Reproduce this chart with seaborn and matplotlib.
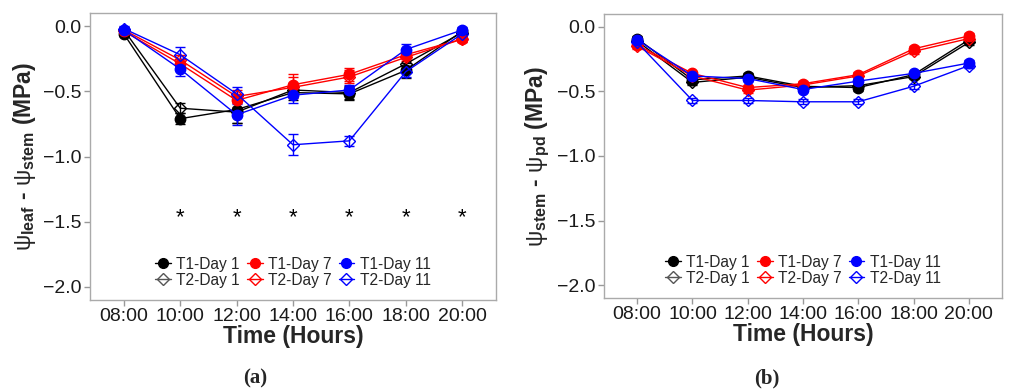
import numpy as np
import pandas as pd
import matplotlib
matplotlib.use("Agg")
import matplotlib.pyplot as plt
from matplotlib.lines import Line2D
import seaborn as sns

sns.set_theme(style="white")
plt.rcParams['font.family'] = ['Liberation Sans', 'DejaVu Sans']
plt.rcParams['mathtext.fontset'] = 'custom'
plt.rcParams['mathtext.rm'] = 'Liberation Sans'
plt.rcParams['mathtext.it'] = 'Liberation Sans:italic'
plt.rcParams['mathtext.bf'] = 'Liberation Sans:bold'

times = ['08:00', '10:00', '12:00', '14:00', '16:00', '18:00', '20:00']
series = ['T1-Day 1', 'T2-Day 1', 'T1-Day 7', 'T2-Day 7', 'T1-Day 11', 'T2-Day 11']

# Panel (a): psi_leaf - psi_stem
a_T1D1 = [-0.06, -0.71, -0.64, -0.51, -0.52, -0.34, -0.04]
a_T2D1 = [-0.03, -0.63, -0.66, -0.49, -0.51, -0.29, -0.05]
a_T1D7 = [-0.04, -0.29, -0.57, -0.45, -0.37, -0.22, -0.10]
a_T2D7 = [-0.03, -0.26, -0.54, -0.47, -0.39, -0.24, -0.10]
a_T1D11 = [-0.03, -0.33, -0.68, -0.53, -0.49, -0.18, -0.03]
a_T2D11 = [-0.02, -0.22, -0.52, -0.91, -0.88, -0.35, -0.06]
a_err_T1D1 = [0.02, 0.04, 0.10, 0.06, 0.05, 0.06, 0.02]
a_err_T2D1 = [0.02, 0.04, 0.08, 0.05, 0.05, 0.05, 0.02]
a_err_T1D7 = [0.02, 0.04, 0.05, 0.08, 0.05, 0.03, 0.02]
a_err_T2D7 = [0.02, 0.04, 0.05, 0.08, 0.05, 0.03, 0.02]
a_err_T1D11 = [0.02, 0.05, 0.08, 0.06, 0.04, 0.04, 0.02]
a_err_T2D11 = [0.02, 0.06, 0.05, 0.08, 0.04, 0.04, 0.02]
a_signif = ['', '*', '*', '*', '*', '*', '*']

# Panel (b): psi_stem - psi_pd
b_T1D1 = [-0.09, -0.41, -0.38, -0.46, -0.47, -0.37, -0.10]
b_T2D1 = [-0.11, -0.43, -0.39, -0.47, -0.455, -0.385, -0.12]
b_T1D7 = [-0.14, -0.36, -0.47, -0.44, -0.37, -0.17, -0.07]
b_T2D7 = [-0.15, -0.38, -0.49, -0.45, -0.38, -0.19, -0.09]
b_T1D11 = [-0.10, -0.38, -0.40, -0.485, -0.42, -0.36, -0.28]
b_T2D11 = [-0.12, -0.57, -0.57, -0.58, -0.58, -0.46, -0.30]
b_err_T1D1 = [0.02, 0.03, 0.02, 0.02, 0.03, 0.02, 0.02]
b_err_T2D1 = [0.02, 0.02, 0.02, 0.02, 0.02, 0.02, 0.02]
b_err_T1D7 = [0.02, 0.02, 0.02, 0.02, 0.02, 0.02, 0.02]
b_err_T2D7 = [0.02, 0.02, 0.02, 0.02, 0.02, 0.02, 0.02]
b_err_T1D11 = [0.02, 0.02, 0.02, 0.02, 0.02, 0.02, 0.02]
b_err_T2D11 = [0.02, 0.02, 0.02, 0.02, 0.02, 0.02, 0.02]

colors = {'T1-Day 1': 'black', 'T2-Day 1': 'black', 'T1-Day 7': '#FF0000',
          'T2-Day 7': '#FF0000', 'T1-Day 11': '#0000FF', 'T2-Day 11': '#0000FF'}

def build(vals, errs):
    rows = []
    for s, v, e in zip(series, vals, errs):
        for i, t in enumerate(times):
            rows.append(dict(series=s, time=t, pos=i, value=v[i], err=e[i]))
    return pd.DataFrame(rows)

df_a = build([a_T1D1, a_T2D1, a_T1D7, a_T2D7, a_T1D11, a_T2D11],
             [a_err_T1D1, a_err_T2D1, a_err_T1D7, a_err_T2D7, a_err_T1D11, a_err_T2D11])
df_b = build([b_T1D1, b_T2D1, b_T1D7, b_T2D7, b_T1D11, b_T2D11],
             [b_err_T1D1, b_err_T2D1, b_err_T1D7, b_err_T2D7, b_err_T1D11, b_err_T2D11])

fig = plt.figure(figsize=(10.09, 3.92), dpi=100)
ax_a = fig.add_axes([90/1009, 92/392, 406/1009, 287/392])
ax_b = fig.add_axes([604/1009, 94/392, 398/1009, 284/392])

def draw(ax, df, ylabel):
    for s in series:
        d = df[df.series == s]
        c = colors[s]
        open_m = s.startswith('T2')
        ax.errorbar(d.pos, d.value, yerr=d.err, fmt='none', ecolor=c,
                    elinewidth=1.0, capsize=3.5, capthick=1.0, zorder=2)
        sns.lineplot(data=d, x='pos', y='value', ax=ax, color=c, lw=1.0,
                     marker='D' if open_m else 'o',
                     markersize=6.5 if open_m else 7.5,
                     markerfacecolor='none' if open_m else c,
                     markeredgecolor=c, markeredgewidth=1.0,
                     legend=False, zorder=3, errorbar=None)
    ax.set_xlim(-0.6, 6.6)
    ax.set_ylim(-2.1, 0.1)
    ax.set_xticks(range(len(times)))
    ax.set_xticklabels(times)
    ax.set_yticks([0.0, -0.5, -1.0, -1.5, -2.0])
    ax.set_yticklabels(['0.0', '\u22120.5', '\u22121.0', '\u22121.5', '\u22122.0'])
    ax.tick_params(axis='both', which='both', length=4, width=1, color='#999999',
                   labelsize=14, labelcolor='#1a1a1a', pad=2, left=True, bottom=True)
    for sp in ax.spines.values():
        sp.set_color('#aaaaaa')
        sp.set_linewidth(1.0)
    ax.set_xlabel('Time (Hours)', fontsize=16.5, fontweight='bold', labelpad=0)
    ax.set_ylabel(ylabel, fontsize=16.5, fontweight='bold', labelpad=4)
    handles = []
    for s in series:
        c = colors[s]
        open_m = s.startswith('T2')
        ec = '#555555' if s == 'T2-Day 1' else c
        handles.append(Line2D([0], [0], color=ec, lw=1.0,
                              marker='D' if open_m else 'o',
                              markersize=6 if open_m else 7,
                              markerfacecolor='none' if open_m else c,
                              markeredgecolor=ec))
    ax.legend(handles, series, ncol=3, loc='lower center', bbox_to_anchor=(0.5, 0.005),
              frameon=False, fontsize=11.2, handlelength=1.0, handletextpad=0.35,
              columnspacing=0.45, labelspacing=0.05, borderpad=0.2)

draw(ax_a, df_a, r'$\mathrm{\psi}_{\mathbf{leaf}}$ - $\mathrm{\psi}_{\mathbf{stem}}$ (MPa)')
draw(ax_b, df_b, r'$\mathrm{\psi}_{\mathbf{stem}}$ - $\mathrm{\psi}_{\mathbf{pd}}$ (MPa)')

for i, s in enumerate(a_signif):
    if s:
        ax_a.text(i, -1.47, s, ha='center', va='center', fontsize=16, color='black')

fig.text(255/1009, 1 - 378/392, '(a)', ha='center', va='center', fontsize=15,
         family='Liberation Serif', fontweight='bold')
fig.text(767/1009, 1 - 378/392, '(b)', ha='center', va='center', fontsize=15,
         family='Liberation Serif', fontweight='bold')

fig.savefig('out.png', dpi=100)
